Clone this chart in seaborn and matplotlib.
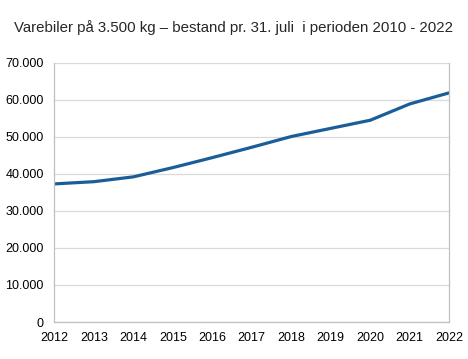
import matplotlib
matplotlib.use("Agg")
import matplotlib.pyplot as plt
import matplotlib.ticker as mticker
import seaborn as sns
import pandas as pd

years = [2012, 2013, 2014, 2015, 2016, 2017, 2018, 2019, 2020, 2021, 2022]
bestand = [37300, 37900, 39200, 41700, 44400, 47200, 50100, 52300, 54500, 58900, 61900]

df = pd.DataFrame({"year": years, "bestand": bestand})

sns.set_style("white")
plt.rcParams['font.family'] = ['Liberation Sans', 'DejaVu Sans']

fig, ax = plt.subplots(figsize=(4.68, 3.59), dpi=100)
sns.lineplot(data=df, x="year", y="bestand", color="#1a5e99", linewidth=2.3, ax=ax)

ax.set_xlim(2012, 2022)
ax.set_ylim(0, 70000)
ax.set_xticks(years)
ax.set_yticks(range(0, 70001, 10000))
ax.yaxis.set_major_formatter(mticker.FuncFormatter(lambda v, p: f"{int(v):,}".replace(",", ".")))
ax.grid(axis="y", color="#d9d9d9", linewidth=0.9)
ax.set_axisbelow(True)
for s in ["left", "bottom", "right"]:
    ax.spines[s].set_color("#c0c0c0")
    ax.spines[s].set_linewidth(0.9)
ax.spines["top"].set_visible(False)
ax.tick_params(axis="both", direction="out", length=4, color="#c0c0c0", labelsize=9, labelcolor="black")
ax.set_xlabel("")
ax.set_ylabel("")
fig.suptitle("Varebiler på 3.500 kg – bestand pr. 31. juli  i perioden 2010 - 2022",
             fontsize=10.8, x=0.498, y=0.945)

fig.subplots_adjust(left=0.116, right=0.96, top=0.825, bottom=0.103)
fig.savefig("out.png", dpi=100)
